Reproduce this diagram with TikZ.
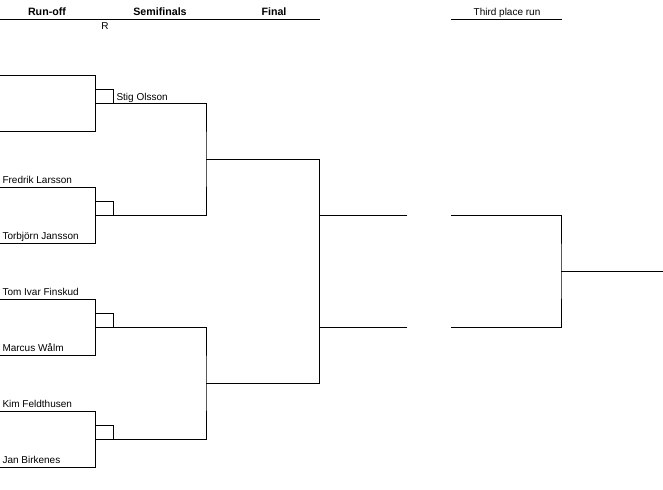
\documentclass[tikz,border=0pt]{standalone}
\usepackage{fontspec}
\setmainfont{Liberation Sans}
\begin{document}
\begin{tikzpicture}[x=0.75pt, y=-0.75pt, line width=0.75pt,
  player/.style={anchor=base west, inner sep=0pt, font=\fontsize{7.5}{9}\selectfont},
  head/.style={anchor=base, inner sep=0pt, font=\fontsize{8}{10}\selectfont\bfseries}]
\useasboundingbox (0,0) rectangle (663,489);
% headings
\node[head] (runoff) at (47,15) {Run-off};
\node[head] (semis) at (160,15) {Semifinals};
\node[head] (final) at (274,15) {Final};
\node[player, anchor=base] (third) at (507,16) {Third place run};
\node[player, anchor=base] (R) at (105,29) {R};
\coordinate (h1) at (0,19);   \coordinate (h2) at (320,19);
\coordinate (h3) at (451,19); \coordinate (h4) at (562,19);
\draw (h1) -- (h2);
\draw (h3) -- (h4);
% players
\node[player] (SO) at (116,100) {Stig Olsson};
\node[player] (FL) at (2,183) {Fredrik Larsson};
\node[player] (TJ) at (2,239) {Torbjörn Jansson};
\node[player] (TF) at (2,295) {Tom Ivar Finskud};
\node[player] (MW) at (2,351) {Marcus Wålm};
\node[player] (KF) at (2,407) {Kim Feldthusen};
\node[player] (JB) at (2,463) {Jan Birkenes};
% run-off
\coordinate (r1t) at (0,75);  \coordinate (r1b) at (0,131);
\coordinate (r2t) at (0,187); \coordinate (r2b) at (0,243);
\coordinate (r3t) at (0,299); \coordinate (r3b) at (0,355);
\coordinate (r4t) at (0,411); \coordinate (r4b) at (0,467);
\draw (r1t) -- ++(95,0) |- (r1b);
\draw (r2t) -- ++(95,0) |- (r2b);
\draw (r3t) -- ++(95,0) |- (r3b);
\draw (r4t) -- ++(95,0) |- (r4b);
\coordinate (w1) at (95,103); \coordinate (w2) at (95,215);
\coordinate (w3) at (95,327); \coordinate (w4) at (95,439);
\draw (w1) rectangle ++(18,-14);
\draw (w2) rectangle ++(18,-14);
\draw (w3) rectangle ++(18,-14);
\draw (w4) rectangle ++(18,-14);
% semifinals
\coordinate (s1) at (206,159); \coordinate (s2) at (206,383);
\draw (w1) -| (s1) |- (w2);
\draw (w3) -| (s2) |- (w4);
% final
\coordinate (f1) at (319,159); \coordinate (f2) at (319,383);
\coordinate (fa) at (407,215); \coordinate (fb) at (407,327);
\draw (s1) -- (f1) -- (f2) -- (s2);
\draw (fa) -- (fa -| f1);
\draw (fb) -- (fb -| f1);
% third place
\coordinate (ta) at (451,215); \coordinate (tb) at (451,327);
\coordinate (tc) at (561,271); \coordinate (tw) at (663,271);
\draw (ta) -| (tc) |- (tb);
\draw (tc) -- (tw);
\end{tikzpicture}
\end{document}
